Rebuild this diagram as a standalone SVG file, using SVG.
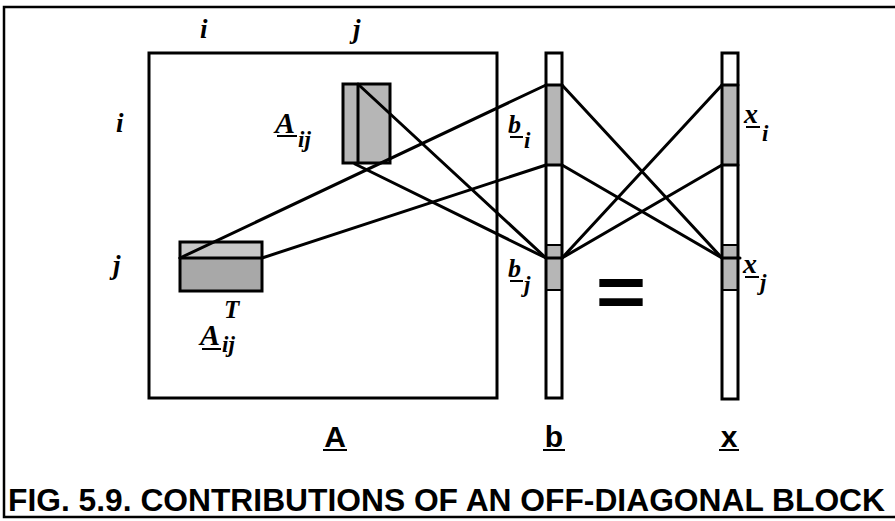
<svg xmlns="http://www.w3.org/2000/svg" width="895" height="521" viewBox="0 0 895 521">
<style>
.frame{fill:none;stroke:#000;stroke-width:2.5}
.box{fill:none;stroke:#000;stroke-width:3}
.sh{fill:#b6b6b6}
.shl{fill:#c8c8c8}
.shd{fill:#a8a8a8}
.ln{stroke:#000;stroke-width:3;fill:none;stroke-linecap:round}
.ul{stroke:#000;stroke-width:2}
.it{font-family:"Liberation Serif","Times New Roman",serif;font-style:italic;font-weight:bold;fill:#000}
.sans{font-family:"Liberation Sans",Arial,Helvetica,sans-serif;font-weight:bold;fill:#000}
</style>
<rect width="895" height="521" fill="#fff"/>
<g id="frame">
<path class="frame" d="M895,7 H4 V517 H895"/>
</g>
<g id="matrixA">
<rect class="box" x="149" y="53" width="348" height="345"/>
<text class="sans" x="335" y="447" font-size="30" text-anchor="middle">A</text>
<line class="ul" x1="323" y1="450" x2="347" y2="450"/>
</g>
<g id="indexLabels">
<text class="it" x="200" y="38" font-size="27">i</text>
<text class="it" x="353" y="38" font-size="27">j</text>
<text class="it" x="116" y="132" font-size="27">i</text>
<text class="it" x="113" y="274" font-size="27">j</text>
</g>
<g id="blockAij">
<rect class="sh" x="343" y="84" width="47" height="79"/>
<rect class="box" x="343" y="84" width="47" height="79"/>
<line class="ln" x1="358" y1="84" x2="358" y2="163" stroke-width="4"/>
<text class="it" x="275" y="133" font-size="30">A</text>
<line class="ul" x1="277" y1="136" x2="297" y2="136"/>
<text class="it" x="298" y="147" font-size="23">ij</text>
</g>
<g id="blockAijT">
<rect class="shl" x="180" y="242" width="82" height="16"/>
<rect class="shd" x="180" y="258" width="82" height="33"/>
<rect class="box" x="180" y="242" width="82" height="49"/>
<line class="ln" x1="180" y1="258" x2="262" y2="258" stroke-width="4"/>
<text class="it" x="200" y="345" font-size="30">A</text>
<line class="ul" x1="202" y1="349" x2="221" y2="349"/>
<text class="it" x="224" y="318" font-size="25">T</text>
<text class="it" x="222" y="352" font-size="23">ij</text>
</g>
<g id="vectorB">
<rect class="sh" x="546" y="85" width="16" height="80"/>
<rect class="sh" x="546" y="245" width="16" height="45"/>
<rect class="box" x="546" y="53" width="16" height="345"/>
<line class="ln" x1="546" y1="85" x2="562" y2="85"/>
<line class="ln" x1="546" y1="165" x2="562" y2="165"/>
<line class="ul" x1="546" y1="245" x2="562" y2="245"/>
<line class="ln" x1="546" y1="258" x2="562" y2="258"/>
<line class="ul" x1="546" y1="290" x2="562" y2="290"/>
<text class="it" x="508" y="133" font-size="26">b</text>
<line class="ul" x1="510" y1="137" x2="523" y2="137"/>
<text class="it" x="524" y="148" font-size="23">i</text>
<text class="it" x="508" y="277" font-size="26">b</text>
<line class="ul" x1="510" y1="281" x2="523" y2="281"/>
<text class="it" x="524" y="292" font-size="23">j</text>
<text class="sans" x="554" y="447" font-size="30" text-anchor="middle">b</text>
<line class="ul" x1="543" y1="450" x2="565" y2="450"/>
</g>
<g id="equals">
<text class="sans" x="0" y="0" font-size="72" text-anchor="middle" transform="translate(621,316) scale(1.2,1)">=</text>
</g>
<g id="vectorX">
<rect class="sh" x="722" y="85" width="16" height="80"/>
<rect class="sh" x="722" y="245" width="16" height="45"/>
<rect class="box" x="722" y="53" width="16" height="346"/>
<line class="ln" x1="722" y1="85" x2="738" y2="85"/>
<line class="ln" x1="722" y1="165" x2="738" y2="165"/>
<line class="ul" x1="722" y1="245" x2="738" y2="245"/>
<line class="ln" x1="722" y1="258" x2="740" y2="258"/>
<line class="ul" x1="722" y1="290" x2="738" y2="290"/>
<text class="it" x="744" y="123" font-size="28">x</text>
<line class="ul" x1="746" y1="127" x2="760" y2="127"/>
<text class="it" x="762" y="141" font-size="23">i</text>
<text class="it" x="743" y="273" font-size="28">x</text>
<line class="ul" x1="745" y1="277" x2="759" y2="277"/>
<text class="it" x="760" y="290" font-size="23">j</text>
<text class="sans" x="729" y="447" font-size="30" text-anchor="middle">x</text>
<line class="ul" x1="719" y1="450" x2="739" y2="450"/>
</g>
<g id="connectors">
<line class="ln" x1="180" y1="258" x2="546" y2="85"/>
<line class="ln" x1="262" y1="258" x2="546" y2="165"/>
<line class="ln" x1="360" y1="86" x2="546" y2="258"/>
<line class="ln" x1="355" y1="164" x2="546" y2="258"/>
<line class="ln" x1="562" y1="85" x2="722" y2="258"/>
<line class="ln" x1="562" y1="165" x2="722" y2="258"/>
<line class="ln" x1="562" y1="258" x2="722" y2="85"/>
<line class="ln" x1="562" y1="258" x2="722" y2="165"/>
</g>
<g id="caption">
<text class="sans" x="8" y="511" font-size="32" textLength="877" lengthAdjust="spacingAndGlyphs">FIG. 5.9. CONTRIBUTIONS OF AN OFF-DIAGONAL BLOCK</text>
</g>
</svg>
